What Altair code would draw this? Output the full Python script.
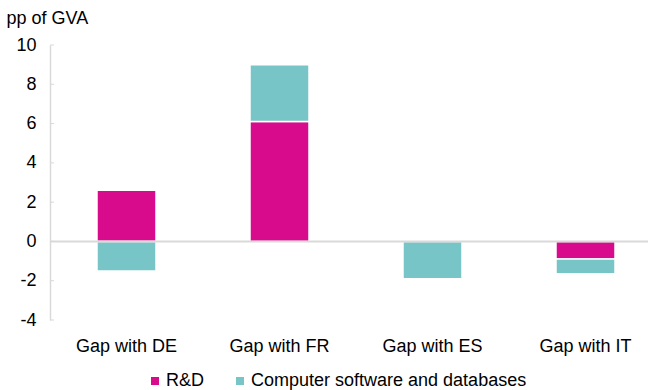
import altair as alt
import pandas as pd

categories = ["Gap with DE", "Gap with FR", "Gap with ES", "Gap with IT"]
rnd = [2.6, 6.1, 0.0, -0.9]
software = [-1.5, 2.9, -1.9, -0.75]
series = ["R&D", "Computer software and databases"]
colors = ["#D80B8C", "#78C5C7"]
y_ticks = [-4, -2, 0, 2, 4, 6, 8, 10]

rows = []
for c, a, b in zip(categories, rnd, software):
    rows.append({"cat": c, "series": series[0], "value": a, "ord": 0})
    rows.append({"cat": c, "series": series[1], "value": b, "ord": 1})
df = pd.DataFrame(rows)

font = "Liberation Sans"
grey = "#D9D9D9"
yscale = alt.Scale(domain=[-4, 10], nice=False)
yaxis = alt.Axis(values=y_ticks, grid=False, ticks=False, labelPadding=14,
                 labelOverlap=False, labelBound=False,
                 labelExpr="'' + datum.value",
                 title="pp of GVA", titleAngle=0, titleAlign="left",
                 titleBaseline="alphabetic", titleX=-44, titleY=-22)

bars = alt.Chart(df).mark_bar(size=59, stroke="white", strokeWidth=1.5).encode(
    x=alt.X("cat:N", sort=categories, title=None,
            scale=alt.Scale(range=[0, 612], paddingInner=0, paddingOuter=0),
            axis=alt.Axis(labelAngle=0, domain=False, ticks=False, labelPadding=17)),
    y=alt.Y("value:Q", stack="zero", scale=yscale, axis=yaxis),
    color=alt.Color("series:N", sort=series,
                    scale=alt.Scale(domain=series, range=colors),
                    legend=alt.Legend(title=None, orient="none", direction="horizontal",
                                      legendX=96, legendY=327)),
    order=alt.Order("ord:Q"),
)

zero = alt.Chart(pd.DataFrame({"y": [0]})).mark_rule(color=grey, strokeWidth=2).encode(
    y=alt.Y("y:Q", scale=yscale, axis=yaxis)
)

# short inward tick marks on the value axis
ticks = alt.Chart(pd.DataFrame({"t": y_ticks})).mark_rule(color=grey, strokeWidth=1).encode(
    y=alt.Y("t:Q", scale=yscale, axis=yaxis), x=alt.value(0), x2=alt.value(4)
)

chart = alt.layer(bars, zero, ticks).properties(
    width=598, height=275,
    autosize=alt.AutoSizeParams(type="none"),
    padding={"left": 50, "top": 45, "right": 0, "bottom": 70},
).configure_view(stroke=None).configure_axis(
    labelFont=font, labelFontSize=18, labelColor="#000000",
    titleFont=font, titleFontSize=18, titleFontWeight="normal", titleColor="#000000",
    domainColor=grey, domainWidth=1.5,
).configure_legend(
    labelFont=font, labelFontSize=18, labelColor="#000000", labelLimit=0,
    symbolType="square", symbolSize=64, symbolStrokeWidth=0, symbolOffset=0,
    labelOffset=2, columnPadding=26, padding=0,
)

chart.save("out.html", embed_options={"renderer": "svg", "actions": False})
